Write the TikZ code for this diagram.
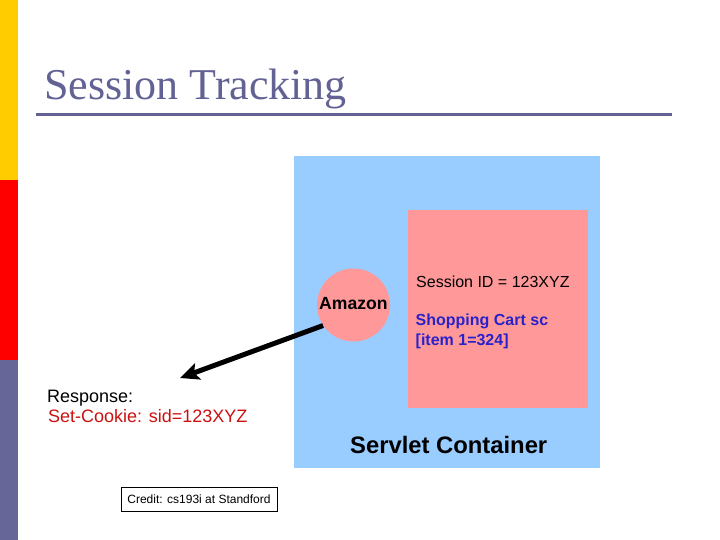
\documentclass[tikz,border=0pt]{standalone}
\usepackage{fontspec}
\setmainfont{Liberation Serif}
\setsansfont{Liberation Sans}
\usetikzlibrary{arrows.meta}
\definecolor{barY}{HTML}{FFCC00}
\definecolor{barR}{HTML}{FF0000}
\definecolor{barP}{HTML}{666699}
\definecolor{titleC}{HTML}{626294}
\definecolor{contBlue}{HTML}{99CCFF}
\definecolor{sessPink}{HTML}{FF9999}
\definecolor{txtBlue}{HTML}{2A22C8}
\definecolor{txtRed}{HTML}{CC1111}
\tikzset{
  lbl/.style={inner sep=0pt, anchor=base west, font=\sffamily\fontsize{16}{19}\selectfont},
  bigl/.style={inner sep=0pt, anchor=base west, font=\sffamily\fontsize{18}{21}\selectfont},
}
\begin{document}
\begin{tikzpicture}[x=1pt,y=-1pt]
\useasboundingbox (0,0) rectangle (720,540);
\fill[white] (0,0) rectangle (720,540);
% left bar
\fill[barY] (0,0) rectangle (18,180);
\fill[barR] (0,180) rectangle (18,360);
\fill[barP] (0,360) rectangle (18,540);
% title
\node[inner sep=0pt, anchor=base west, text=titleC, font=\rmfamily\fontsize{44}{48}\selectfont] (title) at (44,99.5) {Session Tracking};
\draw[titleC, line width=3pt] (36,114.5) -- (672,114.5);
% container
\fill[contBlue] (294,156) rectangle (600,468);
\fill[sessPink] (408,210) rectangle (588,408);
\node[circle, fill=sessPink, minimum size=73pt, inner sep=0pt] (amazon) at (353.5,305) {};
\node[inner sep=0pt, anchor=base west, font=\sffamily\bfseries\fontsize{17.6}{20}\selectfont] (amzt) at (319,309) {Amazon};
\node[lbl] (sid) at (416,287) {Session ID = 123XYZ};
\node[lbl, text=txtBlue, font=\sffamily\bfseries\fontsize{16}{19}\selectfont] (cart1) at (415.5,325.5) {Shopping Cart sc};
\node[lbl, text=txtBlue, font=\sffamily\bfseries\fontsize{16}{19}\selectfont] (cart2) at (415.5,345) {[item 1=324]};
\node[inner sep=0pt, anchor=base west, font=\sffamily\bfseries\fontsize{23.8}{27}\selectfont] (servlet) at (350,453) {Servlet Container};
% response
\node[bigl] (resp) at (47,402.5) {Response:};
\node[bigl, text=txtRed] (cookie) at (48,422.5) {Set-Cookie: sid=123XYZ};
% arrow
\coordinate (tip) at (180,378);
\draw[line width=5pt, -{Stealth[length=19pt,width=17pt,inset=4pt]}] (amazon.214) -- (tip);
% credit
\node[draw=black, line width=0.8pt, minimum width=156pt, minimum height=24pt, inner sep=0pt, font=\sffamily\fontsize{12}{14}\selectfont] (credit) at (199,499) {Credit: cs193i at Standford};
\end{tikzpicture}
\end{document}
